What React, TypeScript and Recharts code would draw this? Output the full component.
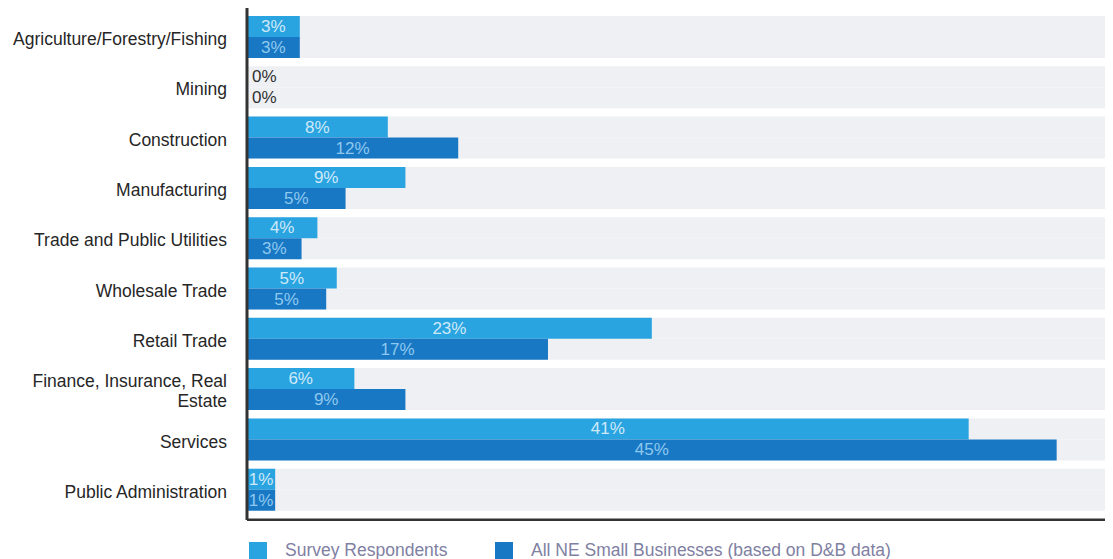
import { BarChart, Bar, XAxis, YAxis, LabelList } from 'recharts';

const categories = [
  'Agriculture/Forestry/Fishing',
  'Mining',
  'Construction',
  'Manufacturing',
  'Trade and Public Utilities',
  'Wholesale Trade',
  'Retail Trade',
  'Finance, Insurance, Real Estate',
  'Services',
  'Public Administration',
];

// bar lengths as read off the picture
const surveyValues = [3, 0, 8, 9, 4, 5.1, 23, 6.1, 41, 1.6];
const neValues = [3, 0, 12, 5.6, 3.1, 4.5, 17.1, 9, 46, 1.6];

// printed labels
const surveyLabels = ['3%', '0%', '8%', '9%', '4%', '5%', '23%', '6%', '41%', '1%'];
const neLabels = ['3%', '0%', '12%', '5%', '3%', '5%', '17%', '9%', '45%', '1%'];

const LIGHT = '#2aa4e0';
const DARK = '#1978c4';
const FONT = '"Liberation Sans", Arial, sans-serif';

const data = categories.map((name, i) => ({
  name,
  survey: surveyValues[i],
  ne: neValues[i],
  surveyLabel: surveyLabels[i],
  neLabel: neLabels[i],
}));

// greedy word wrap by characters
function wrap(label: string, max = 26) {
  const lines: string[] = [];
  let cur = '';
  label.split(' ').forEach(w => {
    const next = cur ? cur + ' ' + w : w;
    if (next.length > max && cur) {
      lines.push(cur);
      cur = w;
    } else {
      cur = next;
    }
  });
  if (cur) lines.push(cur);
  return lines;
}

function CategoryTick({ x, y, payload }: any) {
  const lines = wrap(payload.value);
  const lh = 20;
  return (
    <text x={x} y={y + 2} textAnchor="end" fontSize={17.5} fontFamily={FONT} fill="#262626" dominantBaseline="central">
      {lines.map((l, i) => (
        <tspan key={i} x={x} dy={i === 0 ? -((lines.length - 1) / 2) * lh : lh}>
          {l}
        </tspan>
      ))}
    </text>
  );
}

const makeLabel = (color: string) => (props: any) => {
  const { x, y, width, height, value } = props;
  const zero = !width || width < 2;
  return (
    <text
      x={zero ? x + 5 : x + width / 2}
      y={y + height / 2}
      textAnchor={zero ? 'start' : 'middle'}
      dominantBaseline="central"
      fontSize={17}
      fontFamily={FONT}
      fill={zero ? '#303030' : color}
    >
      {value}
    </text>
  );
};

function LegendItem({ color, label }: { color: string; label: string }) {
  return (
    <div style={{ display: 'flex', alignItems: 'center' }}>
      <span style={{ width: 18, height: 17, background: color, display: 'inline-block', marginRight: 18 }} />
      <span style={{ color: '#8080a2', fontSize: 17.5 }}>{label}</span>
    </div>
  );
}

export default function App() {
  return (
    <div style={{ width: 1105, fontFamily: FONT, background: '#fff' }}>
      <BarChart
        width={1105}
        height={513}
        data={data}
        layout="vertical"
        margin={{ top: 0, right: 0, left: 0, bottom: 0 }}
        barCategoryGap="8%"
        barGap={0}
      >
        <XAxis
          type="number"
          domain={[0, 49.2]}
          height={1}
          tick={false}
          tickLine={false}
          axisLine={{ stroke: '#333', strokeWidth: 3 }}
        />
        <YAxis
          type="category"
          dataKey="name"
          width={239}
          padding={{ top: 4, bottom: 5 }}
          tickLine={false}
          tickSize={0}
          tickMargin={20}
          interval={0}
          axisLine={{ stroke: '#333', strokeWidth: 3 }}
          tick={<CategoryTick />}
        />
        <Bar dataKey="survey" fill={LIGHT} minPointSize={1} background={{ fill: '#eef0f4' }} isAnimationActive={false}>
          <LabelList dataKey="surveyLabel" content={makeLabel('#cfe9f9')} />
        </Bar>
        <Bar dataKey="ne" fill={DARK} minPointSize={1} background={{ fill: '#eef0f4' }} isAnimationActive={false}>
          <LabelList dataKey="neLabel" content={makeLabel('#8ec8ef')} />
        </Bar>
      </BarChart>
      <div style={{ display: 'flex', marginTop: 19, paddingLeft: 241 }}>
        <div style={{ width: 246 }}>
          <LegendItem color={LIGHT} label="Survey Respondents" />
        </div>
        <LegendItem color={DARK} label="All NE Small Businesses (based on D&B data)" />
      </div>
    </div>
  );
}
